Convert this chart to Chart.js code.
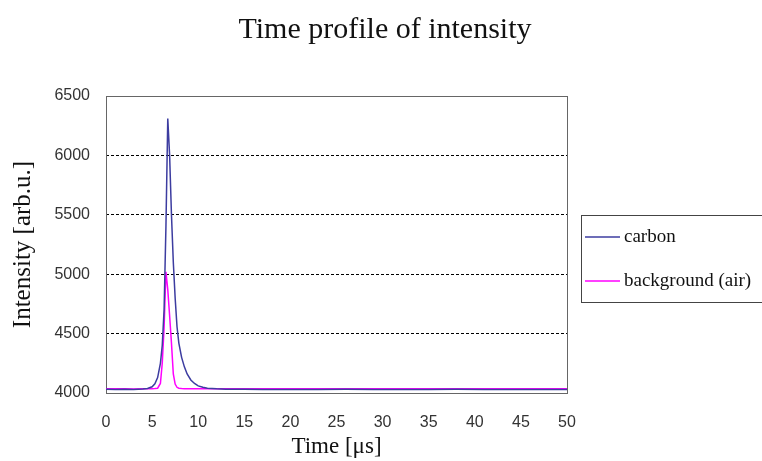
<!DOCTYPE html>
<html>
<head>
<meta charset="utf-8">
<script src="https://cdn.jsdelivr.net/npm/chart.js@4.4.1/dist/chart.umd.min.js"></script>
<style>
  body { margin: 0; background: #fff; }
  #intensityChart { display: block; }
</style>
</head>
<body>
<canvas id="intensityChart" width="762" height="461"></canvas>
<script>
const timeUs = [0, 1, 2, 3, 4, 4.5, 5, 5.3, 5.6, 5.9, 6.1, 6.3, 6.5, 6.7, 6.9, 7.1, 7.3, 7.5, 7.7, 7.9,
  8.2, 8.5, 8.8, 9.2, 9.6, 10, 10.5, 11, 12, 13, 15, 17, 20, 23, 26, 29, 32, 35, 38, 41, 44, 47, 50];
const carbon = [4032, 4030, 4031, 4029, 4033, 4038, 4052, 4078, 4130, 4250, 4400, 4700, 5400, 6310, 6000, 5500,
  5100, 4800, 4560, 4420, 4300, 4220, 4160, 4110, 4080, 4060, 4048, 4040, 4035, 4032, 4031, 4030, 4030,
  4029, 4031, 4030, 4029, 4030, 4031, 4030, 4029, 4030, 4030];
const air = [4036, 4035, 4036, 4034, 4035, 4035, 4036, 4037, 4040, 4080, 4250, 4550, 5020, 4870, 4650, 4420,
  4160, 4075, 4048, 4040, 4037, 4036, 4035, 4036, 4035, 4035, 4036, 4035, 4035, 4036, 4035, 4035, 4036,
  4035, 4035, 4036, 4035, 4035, 4036, 4035, 4035, 4036, 4035];
const seriesNames = ["carbon", "background (air)"];
const seriesColors = ["#3c3ca0", "#ff00ff"];

const toPoints = (ys) => timeUs.map((t, i) => ({ x: t, y: ys[i] }));
const serif = "'Liberation Serif', 'Times New Roman', serif";
const sans = "'Liberation Sans', Arial, sans-serif";

// plot frame + boxed legend like the original spreadsheet chart
const frameAndLegend = {
  id: "frameAndLegend",
  beforeDatasetsDraw(chart) {
    const { ctx, chartArea: a } = chart;
    ctx.save();
    ctx.strokeStyle = "#666";
    ctx.lineWidth = 1;
    ctx.strokeRect(a.left + 0.5, a.top + 0.5, a.right - a.left, a.bottom - a.top);
    ctx.restore();
  },
  afterDraw(chart) {
    const { ctx, chartArea: a } = chart;
    const x0 = a.right + 14, y0 = 215, w = 182, h = 87;
    ctx.save();
    ctx.strokeStyle = "#444";
    ctx.lineWidth = 1;
    ctx.strokeRect(x0 + 0.5, y0 + 0.5, w, h);
    ctx.font = "19px " + serif;
    ctx.textBaseline = "middle";
    ctx.fillStyle = "#111";
    chart.data.datasets.forEach((ds, i) => {
      const y = y0 + 22 + i * 44;
      ctx.strokeStyle = ds.borderColor;
      ctx.lineWidth = 1.5;
      ctx.beginPath();
      ctx.moveTo(x0 + 4, y);
      ctx.lineTo(x0 + 39, y);
      ctx.stroke();
      ctx.fillText(ds.label, x0 + 43, y);
    });
    ctx.restore();
  }
};

new Chart(document.getElementById("intensityChart"), {
  type: "line",
  data: {
    datasets: [
      { label: seriesNames[0], data: toPoints(carbon), borderColor: seriesColors[0], borderWidth: 1.5 },
      { label: seriesNames[1], data: toPoints(air), borderColor: seriesColors[1], borderWidth: 1.5 },
    ],
  },
  options: {
    responsive: false,
    devicePixelRatio: 1,
    animation: false,
    elements: { point: { radius: 0 }, line: { tension: 0 } },
    layout: { padding: { left: 8, right: 0, top: 0, bottom: 0 } },
    plugins: {
      legend: { display: false },
      tooltip: { enabled: false },
      title: {
        display: true,
        text: "Time profile of intensity",
        color: "#111",
        font: { family: serif, size: 30, weight: "normal" },
        padding: { top: 12, bottom: 48 },
      },
    },
    scales: {
      x: {
        type: "linear",
        min: 0,
        max: 50,
        afterFit: (s) => { s.height = 68; },
        ticks: {
          stepSize: 5,
          padding: 20,
          color: "#333",
          font: { family: sans, size: 16 },
        },
        grid: { display: false, drawTicks: false },
        border: { display: false },
        title: {
          display: true,
          text: "Time [μs]",
          color: "#111",
          padding: 0,
          font: { family: serif, size: 23 },
        },
      },
      y: {
        min: 4000,
        max: 6500,
        afterFit: (s) => { s.width = 98; },
        ticks: {
          stepSize: 500,
          padding: 16,
          color: "#333",
          font: { family: sans, size: 16 },
          callback: (v) => String(v),
        },
        grid: {
          drawTicks: false,
          color: (c) => (c.tick && (c.tick.value === 4000 || c.tick.value === 6500) ? "rgba(0,0,0,0)" : "#000"),
          lineWidth: 1,
        },
        border: { display: false, dash: [3, 2] },
        title: {
          display: true,
          text: "Intensity [arb.u.]",
          color: "#111",
          padding: 0,
          font: { family: serif, size: 25 },
        },
      },
      // empty right axis that only reserves room for the legend box
      legendSpace: {
        position: "right",
        display: true,
        afterFit: (s) => { s.width = 195; },
        ticks: { display: false },
        grid: { display: false, drawTicks: false },
        border: { display: false },
      },
    },
  },
  plugins: [frameAndLegend],
});
</script>
</body>
</html>
